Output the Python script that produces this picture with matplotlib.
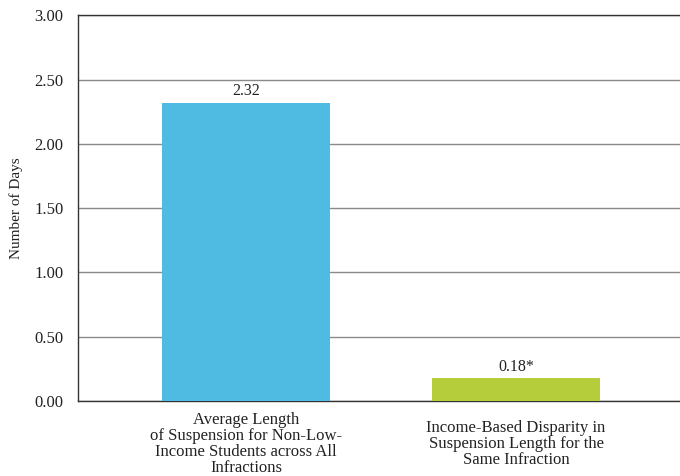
import matplotlib
matplotlib.use("Agg")
import matplotlib.pyplot as plt

# Data
categories = [
    "Average Length\nof Suspension for Non-Low-\nIncome Students across All\nInfractions",
    "Income-Based Disparity in\nSuspension Length for the\nSame Infraction",
]
values = [2.32, 0.18]
value_labels = ["2.32", "0.18*"]
bar_colors = ["#4FBAE2", "#B6CD3B"]
y_ticks = [0.0, 0.5, 1.0, 1.5, 2.0, 2.5, 3.0]

FONT = ["Liberation Serif", "DejaVu Serif"]
DARK = "#333333"
TEXT = "#222222"

fig = plt.figure(figsize=(6.8, 4.76), dpi=100)
ax = fig.add_axes([0.114, 0.1576, 0.886, 0.8103])

positions = list(range(len(values)))
bars = ax.bar(positions, values, width=0.625, color=bar_colors, zorder=3)

for bar, label in zip(bars, value_labels):
    ax.text(bar.get_x() + bar.get_width() / 2, bar.get_height() + 0.025, label,
            ha="center", va="bottom", fontsize=11.5, family=FONT, color=TEXT)

# Axes and grid
ax.set_xlim(-0.624, 1.607)
ax.set_ylim(0, 3.0)
ax.set_yticks(y_ticks)
ax.set_yticklabels([f"{t:.2f}" for t in y_ticks], family=FONT, fontsize=12, color=TEXT)
ax.set_xticks(positions)
ax.set_xticklabels(categories, family=FONT, fontsize=12, color=TEXT, linespacing=0.98)
# category labels sit vertically centred on a common line below the axis
for lbl in ax.get_xticklabels():
    lbl.set_verticalalignment("center")
ax.tick_params(axis="both", length=0)
ax.tick_params(axis="x", pad=31)
ax.tick_params(axis="y", pad=10)

ax.yaxis.grid(True, color="#8a8a8a", linewidth=1.0, zorder=0)
ax.set_axisbelow(True)

ax.spines["right"].set_visible(False)
for side in ["left", "bottom", "top"]:
    ax.spines[side].set_color(DARK)
    ax.spines[side].set_linewidth(1.0)

ax.set_ylabel("Number of Days", family=FONT, fontsize=11, color=TEXT, labelpad=8)

fig.savefig("out.png", dpi=100)
